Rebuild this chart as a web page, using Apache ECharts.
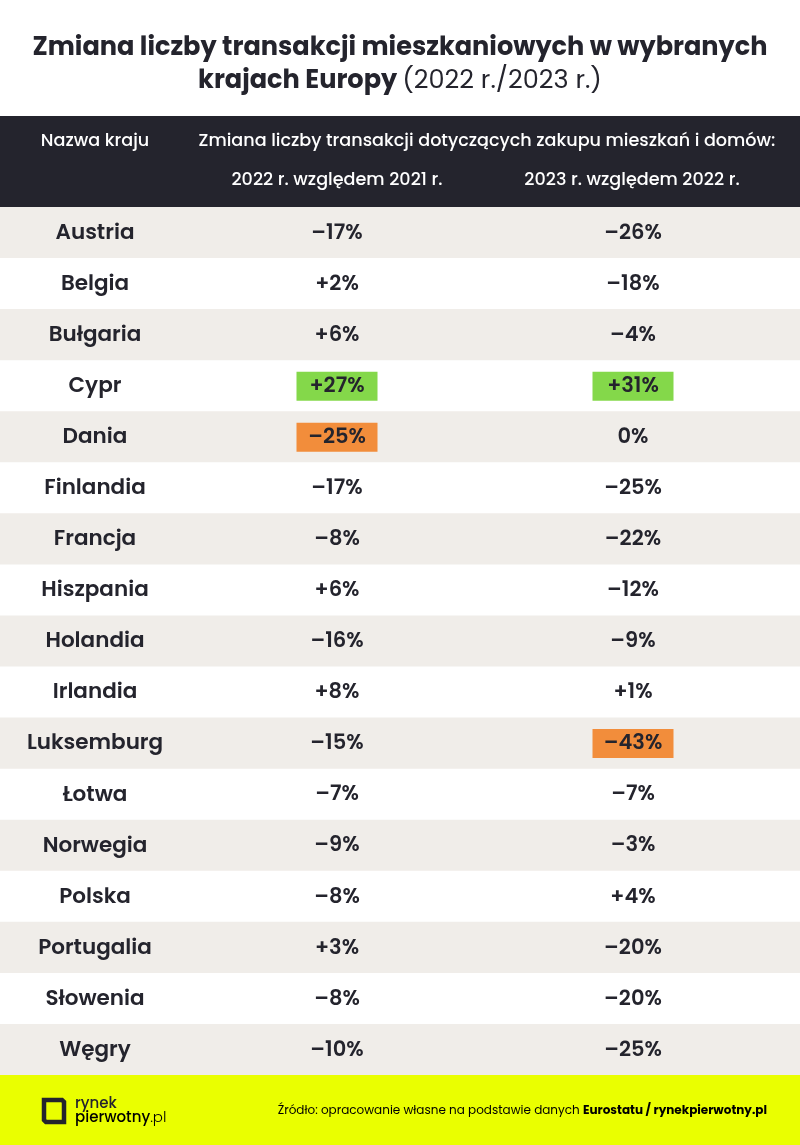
<!DOCTYPE html>
<html>
<head>
<meta charset="utf-8">
<script src="https://cdn.jsdelivr.net/npm/echarts@6/dist/echarts.min.js"></script>
<style>
html,body{margin:0;padding:0;background:#fff;}
#c{width:800px;height:1145px;}
</style>
</head>
<body>
<div id="c"></div>
<script>
var countries = ['Austria','Belgia','Bułgaria','Cypr','Dania','Finlandia','Francja','Hiszpania','Holandia','Irlandia','Luksemburg','Łotwa','Norwegia','Polska','Portugalia','Słowenia','Węgry'];
var change2022 = [-17, 2, 6, 27, -25, -17, -8, 6, -16, 8, -15, -7, -9, -8, 3, -8, -10];
var change2023 = [-26, -18, -4, 31, 0, -25, -22, -12, -9, 1, -43, -7, -3, 4, -20, -20, -25];
var columnLabels = ['Nazwa kraju', '2022 r. względem 2021 r.', '2023 r. względem 2022 r.'];
var headerLabel = 'Zmiana liczby transakcji dotyczących zakupu mieszkań i domów:';

var FONT = 'Poppins, "Noto Sans", sans-serif';
var DARK = '#24242d';
var colX = [95, 337, 633];

function fmt(v){ return (v > 0 ? '+' : (v < 0 ? '\u2013' : '')) + Math.abs(v) + '%'; }

var max1 = Math.max.apply(null, change2022), min1 = Math.min.apply(null, change2022);
var max2 = Math.max.apply(null, change2023), min2 = Math.min.apply(null, change2023);

var data = countries.map(function(c, i){ return [0, i, change2022[i], change2023[i]]; });

function renderItem(params, api){
  var i = params.dataIndex;
  var y = api.coord([0, i])[1];
  var h = api.size([0, 1])[1];
  var x0 = api.coord([0, i])[0];
  var x1 = api.coord([800, i])[0];
  var children = [];
  if (i % 2 === 0) {
    children.push({type:'rect', shape:{x:x0, y:y - h/2, width:x1 - x0, height:h}, style:{fill:'#f0ede9'}});
  }
  var vals = [api.value(2), api.value(3)];
  var mx = [max1, max2], mn = [min1, min2];
  children.push({type:'text', style:{text:countries[i], x:api.coord([colX[0], i])[0], y:y + 1, align:'center', verticalAlign:'middle', font:'600 21.5px ' + FONT, fill:DARK}});
  for (var k = 0; k < 2; k++) {
    var cx = api.coord([colX[k+1], i])[0];
    var v = vals[k];
    if (v === mx[k] || v === mn[k]) {
      children.push({type:'rect', shape:{x:cx - 40.5, y:y - 14, width:81, height:29}, style:{fill: v === mx[k] ? '#84d84a' : '#f28d3b'}});
    }
    children.push({type:'text', style:{text:fmt(v), x:cx, y:y + 1, align:'center', verticalAlign:'middle', font:'600 21px ' + FONT, fill:DARK}});
  }
  return {type:'group', children:children};
}

var chart = echarts.init(document.getElementById('c'), null, {renderer:'canvas'});
chart.setOption({
  animation:false,
  backgroundColor:'#ffffff',
  title:{
    left:'center', top:27,
    text:'{b|Zmiana liczby transakcji mieszkaniowych w wybranych}\n{b|krajach Europy} {n|(2022 r./2023 r.)}',
    textStyle:{
      rich:{
        b:{fontFamily:FONT, fontWeight:700, fontSize:25.6, color:DARK, lineHeight:33},
        n:{fontFamily:FONT, fontWeight:400, fontSize:25.6, color:DARK, lineHeight:33}
      }
    }
  },
  grid:{left:0, right:0, top:207, bottom:70},
  xAxis:{type:'value', min:0, max:800, show:false},
  yAxis:{type:'category', data:countries, inverse:true, show:false},
  series:[{type:'custom', renderItem:renderItem, data:data, silent:true, clip:false}],
  graphic:[
    {type:'rect', left:0, top:116, shape:{width:800, height:91}, style:{fill:DARK}, z:-1},
    {type:'text', x:95, y:142, style:{text:columnLabels[0], align:'center', verticalAlign:'middle', font:'500 17.6px ' + FONT, fill:'#ffffff'}},
    {type:'text', x:487, y:142, style:{text:headerLabel, align:'center', verticalAlign:'middle', font:'500 17.6px ' + FONT, fill:'#ffffff'}},
    {type:'text', x:337, y:181, style:{text:columnLabels[1], align:'center', verticalAlign:'middle', font:'500 17.6px ' + FONT, fill:'#ffffff'}},
    {type:'text', x:632, y:181, style:{text:columnLabels[2], align:'center', verticalAlign:'middle', font:'500 17.6px ' + FONT, fill:'#ffffff'}},
    {type:'rect', left:0, top:1075, shape:{width:800, height:70}, style:{fill:'#eaff00'}},
    {type:'polygon', shape:{points:[[44,1100],[62,1100],[64,1102],[64,1122],[46,1122],[44,1120]]}, style:{fill:'none', stroke:DARK, lineWidth:4.5, lineJoin:'miter'}},
    {type:'text', x:75, y:1104, style:{text:'rynek', verticalAlign:'middle', font:'500 15px ' + FONT, fill:DARK}},
    {type:'text', x:75, y:1118, style:{text:'{a|pierwotny}{b|.pl}', verticalAlign:'middle', rich:{a:{fontFamily:FONT, fontWeight:500, fontSize:15, color:DARK}, b:{fontFamily:FONT, fontWeight:300, fontSize:15, color:DARK}}}},
    {type:'text', x:767, y:1111, style:{text:'{n|Źródło: opracowanie własne na podstawie danych }{b|Eurostatu / rynekpierwotny.pl}', align:'right', verticalAlign:'middle', rich:{n:{fontFamily:FONT, fontWeight:400, fontSize:12, color:DARK}, b:{fontFamily:FONT, fontWeight:700, fontSize:12, color:DARK}}}}
  ]
});
</script>
</body>
</html>
